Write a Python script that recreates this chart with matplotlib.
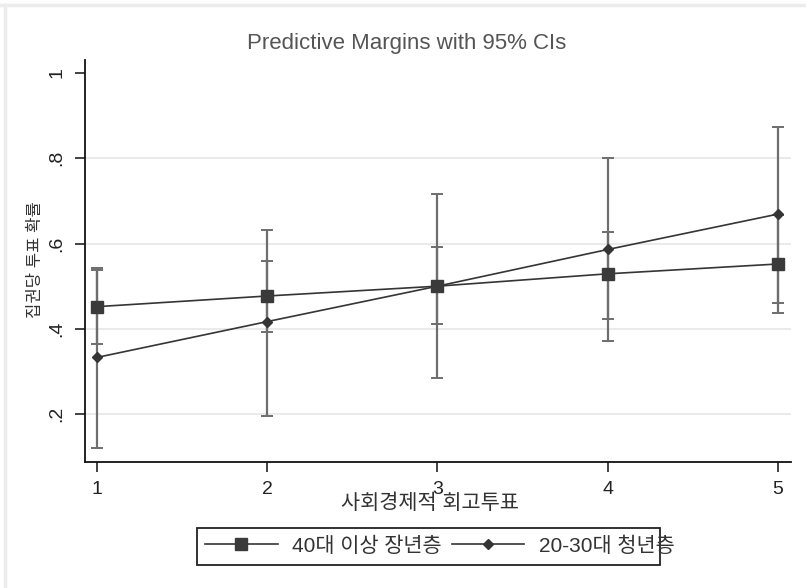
import matplotlib
matplotlib.use('Agg')
import matplotlib.pyplot as plt
from matplotlib.patches import Rectangle
from matplotlib.lines import Line2D

# 데이터
x_vals = [1, 2, 3, 4, 5]
x_ticks = [1, 2, 3, 4, 5]
y_ticks = [0.2, 0.4, 0.6, 0.8, 1.0]
y_tick_labels = ['.2', '.4', '.6', '.8', '1']

older = [0.452, 0.477, 0.500, 0.529, 0.552]
older_lo = [0.365, 0.392, 0.411, 0.423, 0.437]
older_hi = [0.538, 0.560, 0.592, 0.627, 0.667]

young = [0.333, 0.417, 0.500, 0.586, 0.669]
young_lo = [0.120, 0.196, 0.284, 0.372, 0.460]
young_hi = [0.543, 0.632, 0.716, 0.800, 0.872]

labels = ['40대 이상 장년층', '20-30대 청년층']
title = 'Predictive Margins with 95% CIs'
xlabel = '사회경제적 회고투표'
ylabel = '집권당 투표 확률'


def main():
    plt.rcParams['font.family'] = ['Liberation Sans', 'Noto Sans CJK KR', 'DejaVu Sans']
    plt.rcParams['axes.unicode_minus'] = False

    W, H = 806, 588
    fig = plt.figure(figsize=(W / 100, H / 100), dpi=100)
    ax = fig.add_axes([85 / W, 1 - 462 / H, (791 - 85) / W, (462 - 60) / H])

    line_c = '#353535'
    err_c = '#6e6e6e'

    # 신뢰구간
    for mid, lo, hi in [(older, older_lo, older_hi), (young, young_lo, young_hi)]:
        yerr = [[m - l for m, l in zip(mid, lo)], [h - m for m, h in zip(mid, hi)]]
        ax.errorbar(x_vals, mid, yerr=yerr, fmt='none', ecolor=err_c,
                    elinewidth=1.6, capsize=4, capthick=1.4, zorder=2)

    h_young, = ax.plot(x_vals, young, color=line_c, lw=1.2, marker='D',
                       markersize=5, markerfacecolor=line_c, markeredgecolor=line_c, zorder=3)
    h_old, = ax.plot(x_vals, older, color=line_c, lw=1.2, marker='s',
                     markersize=9, markerfacecolor='#3a3a3a', markeredgecolor='#3a3a3a', zorder=4)

    ax.set_xlim(0.93, 5.076)
    ax.set_ylim(0.088, 1.030)
    ax.set_xticks(x_ticks)
    ax.set_yticks(y_ticks)
    ax.set_yticklabels(y_tick_labels, rotation=90, va='center')
    ax.tick_params(axis='both', direction='out', length=7, width=1.2, labelsize=14,
                   colors='#222222', pad=7)

    ax.grid(axis='y', color='#e6e6e6', lw=1.2)
    ax.get_ygridlines()[-1].set_visible(False)
    ax.set_axisbelow(True)
    for s in ['top', 'right']:
        ax.spines[s].set_visible(False)
    for s in ['left', 'bottom']:
        ax.spines[s].set_linewidth(1.3)
        ax.spines[s].set_color('#111111')

    fig.text(407 / W, 1 - 43 / H, title, ha='center', va='center', fontsize=16, color='#555555')
    fig.text(430 / W, 1 - 503 / H, xlabel, ha='center', va='center', fontsize=15, color='#333333')
    fig.text(35 / W, 1 - 260 / H, ylabel, ha='center', va='center', rotation=90,
             fontsize=12, color='#333333')

    fig.legend([h_old, h_young], labels, ncol=2, frameon=False, loc='center left',
               bbox_to_anchor=(205 / W, 1 - 546 / H), borderpad=0, borderaxespad=0,
               handlelength=3.5, handletextpad=0.7, columnspacing=0.45,
               fontsize=15, labelcolor='#333333')
    fig.add_artist(Rectangle((197 / W, 1 - 565 / H), (660 - 197) / W, 37 / H,
                             transform=fig.transFigure, fill=False, edgecolor='#222222', lw=1.3))

    # 바깥 테두리 (위쪽, 왼쪽)
    fig.add_artist(Line2D([0, 1], [1 - 5 / H, 1 - 5 / H], transform=fig.transFigure,
                          color='#ececec', lw=2.5))
    fig.add_artist(Line2D([5 / W, 5 / W], [0, 1 - 5 / H], transform=fig.transFigure,
                          color='#ececec', lw=2.5))

    fig.savefig('out.png', dpi=100)
    plt.close(fig)


if __name__ == '__main__':
    main()
